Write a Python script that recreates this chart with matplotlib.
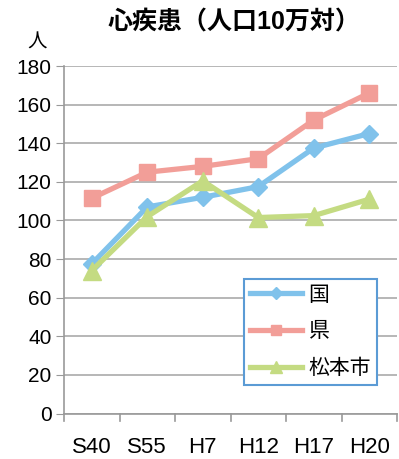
import matplotlib
matplotlib.use("Agg")
import matplotlib.pyplot as plt

plt.rcParams['font.family'] = ['Liberation Sans', 'Noto Sans CJK JP', 'DejaVu Sans']

categories = ["S40", "S55", "H7", "H12", "H17", "H20"]
kuni = [77.5, 107, 112, 117.5, 137.5, 145]
ken = [111.5, 125, 128, 132, 152, 166]
matsumoto = [74, 102, 120.5, 101.5, 102.5, 111]
yticks = [0, 20, 40, 60, 80, 100, 120, 140, 160, 180]

fig = plt.figure(figsize=(3.99, 4.59), dpi=100)
ax = fig.add_axes([64/399, 1-413.5/459, (397-64)/399, (413.5-66)/459])

x = list(range(len(categories)))
c_blue = "#80C2EB"
c_pink = "#F29E98"
c_green = "#C4DB82"
ax.plot(x, kuni, color=c_blue, lw=3.8, marker="D", ms=9, label="国", zorder=3)
ax.plot(x, ken, color=c_pink, lw=3.8, marker="s", ms=11.5, label="県", zorder=2)
ax.plot(x, matsumoto, color=c_green, lw=3.8, marker="^", ms=12.5, label="松本市", zorder=4)

ax.set_xlim(-0.5, len(categories) - 0.5)
ax.set_ylim(0, 180)
ax.set_yticks(yticks)
ax.set_xticks(x)
ax.set_xticklabels(categories, fontsize=16)
ax.tick_params(axis='x', length=0, pad=17)
ax.tick_params(axis='y', labelsize=15, length=6, color="#999999", pad=3)
ax.yaxis.grid(True, color="#AAAAAA", lw=1.2)
ax.set_axisbelow(True)
# category boundary ticks
for b in [i - 0.5 for i in range(len(categories) + 1)]:
    ax.plot([b, b], [0, -4], color="#999999", lw=1.2, clip_on=False)
for s in ["top", "right"]:
    ax.spines[s].set_visible(False)
for s in ["left", "bottom"]:
    ax.spines[s].set_color("#999999")
    ax.spines[s].set_linewidth(1.2)

fig.text(234/399, 1-23/459, "心疾患（人口10万対）", ha="center", va="center",
         fontsize=18, fontweight="bold")
fig.text(37/399, 1-43/459, "人", ha="center", va="center", fontsize=14)

leg = ax.legend(loc="center left", bbox_to_anchor=(244/399, 1-395/459, (377-244)/399, (395-269)/459),
                bbox_transform=fig.transFigure, mode="expand", fontsize=15,
                frameon=True, fancybox=False, edgecolor="#5B9BD5", framealpha=1,
                borderpad=0.3, labelspacing=0.85, handlelength=2.5, handletextpad=0.3,
                markerscale=0.65, borderaxespad=0)
leg.get_frame().set_linewidth(1.5)

fig.savefig("out.png", dpi=100)
